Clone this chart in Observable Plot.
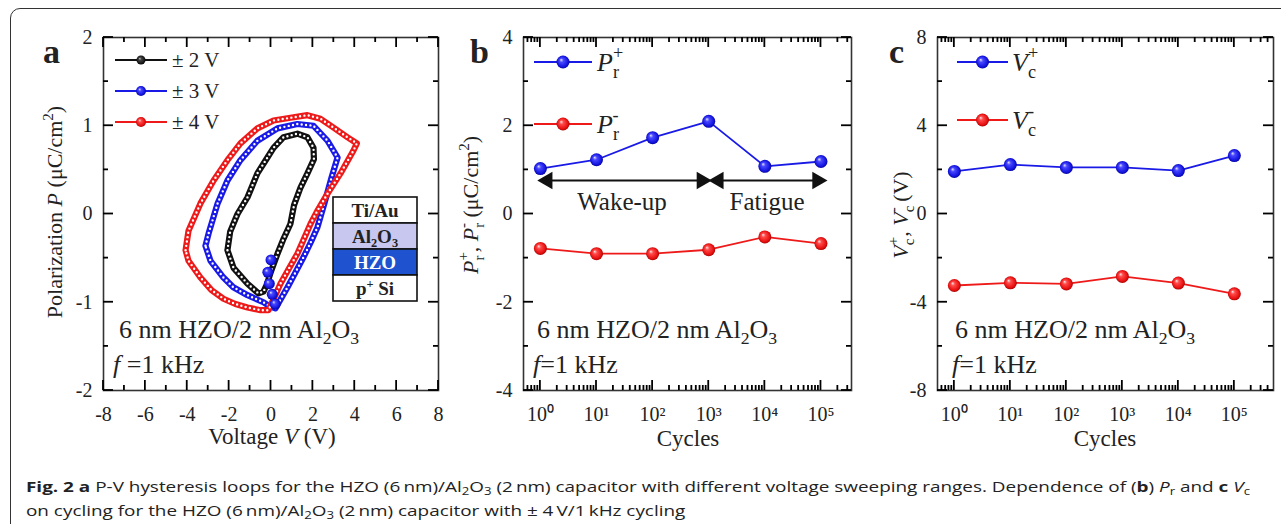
<!DOCTYPE html>
<html><head><meta charset="utf-8">
<script src="https://cdn.jsdelivr.net/npm/d3@7"></script>
<script src="https://cdn.jsdelivr.net/npm/@observablehq/plot@0.6"></script>
<style>
html,body{margin:0;padding:0;background:#fff;}
#wrap{position:relative;width:1281px;height:524px;overflow:hidden;background:#fff;}
#frame{position:absolute;left:10px;top:8px;width:1320px;height:560px;border:1.6px solid #333;border-radius:10px;box-sizing:border-box;}
.panel{position:absolute;top:0;height:470px;}
#caption{position:absolute;left:26px;top:475px;font-family:"Open Sans",sans-serif;font-size:14.5px;color:#222;line-height:24px;white-space:nowrap;transform-origin:0 0;}
#caption sub{font-size:0.7em;line-height:0;vertical-align:-0.25em;}
</style></head>
<body><div id="wrap"><div id="frame"></div>
<svg width="0" height="0" style="position:absolute"><defs>
<radialGradient id="ballBlue" cx="50%" cy="50%" r="55%" fx="35%" fy="32%">
<stop offset="0%" stop-color="#e4e4ff"/><stop offset="28%" stop-color="#4848ff"/><stop offset="75%" stop-color="#1414e0"/><stop offset="100%" stop-color="#00008a"/></radialGradient>
<radialGradient id="ballRed" cx="50%" cy="50%" r="55%" fx="35%" fy="32%">
<stop offset="0%" stop-color="#ffe4e4"/><stop offset="28%" stop-color="#ff4a4a"/><stop offset="75%" stop-color="#e81010"/><stop offset="100%" stop-color="#900000"/></radialGradient>
<radialGradient id="ballBlack" cx="50%" cy="50%" r="55%" fx="35%" fy="32%">
<stop offset="0%" stop-color="#bbbbbb"/><stop offset="30%" stop-color="#444"/><stop offset="100%" stop-color="#000"/></radialGradient>
</defs></svg>
<div id="pa" class="panel" style="left:0;width:450px"></div>
<div id="pb" class="panel" style="left:440px;width:420px"></div>
<div id="pc" class="panel" style="left:860px;width:421px"></div>
<div id="caption"><span id="l1"><b>Fig. 2 a</b> P-V hysteresis loops for the HZO (6&#8201;nm)/Al<sub>2</sub>O<sub>3</sub> (2&#8201;nm) capacitor with different voltage sweeping ranges. Dependence of (<b>b</b>) <i>P</i><sub>r</sub> and <b>c</b> <i>V</i><sub>c</sub></span><br>on cycling for the HZO (6&#8201;nm)/Al<sub>2</sub>O<sub>3</sub> (2&#8201;nm) capacitor with ± 4&#8201;V/1&#8201;kHz cycling</div>
</div>
<script>
const serif = "'Liberation Serif','Times New Roman',serif";
const BLUE = "#1a1ae6", RED = "#ee1a1a", BLACK = "#111", INK = "#222";

// ---------- Panel a data: P-V loops [V, P] ----------
const voltTicks = [-8, -6, -4, -2, 0, 2, 4, 6, 8];
const voltMinor = [-7, -5, -3, -1, 1, 3, 5, 7];
const polTicks = [-2, -1, 0, 1, 2];
const polMinor = [-1.5, -0.5, 0.5, 1.5];
const loop2V = [[-2.08,-0.41],[-1.95,-0.2],[-1.6,0.0],[-1.12,0.19],[-0.65,0.46],[-0.17,0.64],[0.12,0.75],[0.6,0.87],[1.26,0.91],[1.74,0.87],[2.03,0.75],[2.05,0.62],[1.74,0.46],[1.41,0.30],[1.1,0.1],[0.93,-0.11],[0.6,-0.28],[0.31,-0.45],[0.0,-0.65],[-0.2,-0.8],[-0.36,-0.88],[-0.6,-0.9],[-1.12,-0.79],[-1.79,-0.61],[-2.08,-0.41]];
const loop3V = [[-3.13,-0.36],[-2.98,-0.22],[-2.55,0.12],[-2.08,0.38],[-1.46,0.61],[-0.65,0.83],[0.31,0.97],[1.26,1.02],[2.03,1.0],[2.70,0.83],[3.18,0.64],[2.9,0.42],[2.55,0.12],[2.22,-0.15],[1.9,-0.32],[1.55,-0.49],[1.15,-0.67],[0.79,-0.83],[0.45,-0.97],[0.21,-1.07],[-0.1,-1.04],[-0.36,-1.0],[-1.12,-0.92],[-1.8,-0.83],[-2.27,-0.72],[-2.89,-0.53],[-3.13,-0.36]];
const loop4V = [[-4.08,-0.41],[-3.94,-0.19],[-3.37,0.12],[-2.74,0.38],[-2.08,0.61],[-1.46,0.80],[-0.65,0.97],[0.12,1.06],[0.93,1.09],[1.74,1.12],[2.36,1.08],[2.98,0.98],[3.65,0.87],[4.1,0.80],[3.94,0.72],[3.32,0.46],[2.70,0.23],[2.2,0.03],[1.89,-0.11],[1.26,-0.45],[0.85,-0.62],[0.45,-0.79],[0.15,-0.95],[-0.12,-1.09],[-0.5,-1.09],[-1.12,-1.06],[-1.7,-1.02],[-2.27,-0.96],[-2.85,-0.86],[-3.37,-0.72],[-3.94,-0.53],[-4.08,-0.41]];
const start3V = [[0.0,-0.52],[-0.15,-0.66],[-0.08,-0.79],[0.06,-0.91],[0.2,-1.02]];

// ---------- Panels b, c data ----------
const cycles = [1, 10, 100, 1000, 10000, 100000];
const cycleMinor = [0.6,0.7,0.8,0.9,2,3,4,5,6,7,8,9,20,30,40,50,60,70,80,90,200,300,400,500,600,700,800,900,2e3,3e3,4e3,5e3,6e3,7e3,8e3,9e3,2e4,3e4,4e4,5e4,6e4,7e4,8e4,9e4,2e5,3e5,4e5];
const prPlus = [1.03, 1.23, 1.73, 2.10, 1.08, 1.19];
const prMinus = [-0.78, -0.90, -0.90, -0.81, -0.52, -0.67];
const prTicks = [-4, -2, 0, 2, 4];
const prMinor = [-3, -1, 1, 3];
const vcPlus = [1.93, 2.24, 2.11, 2.11, 1.97, 2.65];
const vcMinus = [-3.24, -3.12, -3.17, -2.83, -3.13, -3.62];
const vcTicks = [-8, -4, 0, 4, 8];
const vcMinor = [-6, -2, 2, 6];

const SUP = "⁰¹²³⁴⁵⁶⁷⁸⁹";
const fmtPow = d => "10" + SUP[Math.round(Math.log10(d))];
const fmtNum = d => String(d);

function labelAxes(xMaj, yMaj, fmtX, fmtY) {
  return [
    Plot.axisX({ticks: xMaj, anchor: "bottom", tickSize: 0, tickPadding: 16, tickFormat: fmtX, fontSize: 20, label: null}),
    Plot.axisY({ticks: yMaj, anchor: "left", tickSize: 0, tickPadding: 11, tickFormat: fmtY, fontSize: 20, label: null}),
    Plot.frame({stroke: "#333", strokeWidth: 1.6})
  ];
}
// inward ticks on all four sides, placed through the plot's own scales
function inwardTicks(plot, xMaj, xMin, yMaj, yMin) {
  const sx = plot.scale("x"), sy = plot.scale("y");
  const fx = (sx.type === "log" ? d3.scaleLog() : d3.scaleLinear()).domain(sx.domain).range(sx.range);
  const fy = d3.scaleLinear().domain(sy.domain).range(sy.range);
  const [xl, xr] = d3.extent(sx.range), [yt, yb] = d3.extent(sy.range);
  const inX = xMin.filter(v => v >= d3.min(sx.domain) && v <= d3.max(sx.domain));
  const g = d3.select(plot).append("g").attr("stroke", "#000").attr("stroke-width", 1.8).attr("fill", "none");
  const add = (x1, y1, x2, y2) => g.append("line").attr("x1", x1).attr("y1", y1).attr("x2", x2).attr("y2", y2);
  const M = 10, m = 5;
  for (const [vals, L] of [[xMaj, M], [inX, m]]) for (const v of vals) {
    const x = fx(v); add(x, yb, x, yb - L); add(x, yt, x, yt + L);
  }
  for (const [vals, L] of [[yMaj, M], [yMin, m]]) for (const v of vals) {
    const y = fy(v); add(xl, y, xl + L, y); add(xr, y, xr - L, y);
  }
}
const baseStyle = {fontFamily: serif, fontSize: "20px", color: INK, background: "none", overflow: "visible"};

function rich(svg, x, y, parts, o = {}) {
  const size = o.size || 20;
  const t = d3.select(svg).append("text")
    .attr("transform", `translate(${x},${y})` + (o.rotate ? ` rotate(${o.rotate})` : ""))
    .attr("text-anchor", o.anchor || "start")
    .attr("font-family", o.family || serif).attr("font-size", size)
    .attr("font-weight", o.weight || "normal").attr("fill", o.fill || INK);
  let cur = 0, lastW = 0;
  for (const p of parts) {
    const fs = p.s ? size * p.s : size;
    const shift = p.b || 0;
    const s = t.append("tspan").text(p.t).attr("font-size", fs);
    if (p.i) s.attr("font-style", "italic");
    if (shift !== cur) s.attr("dy", shift - cur);
    cur = shift;
    if (p.back) s.attr("dx", -lastW);
    lastW = s.node().getComputedTextLength();
  }
  return t;
}
function legendItem(svg, x1, x2, y, color, ball, r) {
  const g = d3.select(svg).append("g");
  g.append("line").attr("x1", x1).attr("x2", x2).attr("y1", y).attr("y2", y).attr("stroke", color).attr("stroke-width", 2);
  g.append("circle").attr("cx", (x1 + x2) / 2).attr("cy", y).attr("r", r).attr("fill", `url(#${ball})`);
}

// loops: emulate a dense chain of hollow circle markers
function loopMarks(loop, color) {
  return [
    Plot.line(loop, {x: d => d[0], y: d => d[1], stroke: color, strokeWidth: 6.2, strokeLinejoin: "round"}),
    Plot.line(loop, {x: d => d[0], y: d => d[1], stroke: "white", strokeWidth: 2.4, strokeDasharray: "0 4.4", strokeLinecap: "round"})
  ];
}

// ---------- Panel a ----------
const plotA = Plot.plot({
  width: 450, height: 470, marginLeft: 103, marginRight: 12, marginTop: 37, marginBottom: 80,
  x: {domain: [-8, 8]}, y: {domain: [-2, 2]},
  style: baseStyle,
  marks: [
    ...labelAxes(voltTicks, polTicks, fmtNum, fmtNum),
    ...loopMarks(loop2V, BLACK),
    ...loopMarks(loop3V, BLUE),
    ...loopMarks(loop4V, RED),
    Plot.dot(start3V, {x: d => d[0], y: d => d[1], r: 5.5, fill: "url(#ballBlue)"})
  ]
});
document.getElementById("pa").append(plotA);

// ---------- Panel b ----------
const plotB = Plot.plot({
  width: 420, height: 470, marginLeft: 83, marginRight: 9, marginTop: 37, marginBottom: 80,
  x: {type: "log", domain: [0.5, 3.5e5]}, y: {domain: [-4, 4]},
  style: baseStyle,
  marks: [
    ...labelAxes(cycles, prTicks, fmtPow, fmtNum),
    Plot.link([{a: cycles[0], b: cycles[3]}, {a: cycles[3] * 1.12, b: cycles[5] * 1.15}], {x1: "a", x2: "b", y1: 0.76, y2: 0.76, stroke: "#111", strokeWidth: 2}),
    Plot.dot([cycles[3], cycles[5] * 1.15], {x: d => d, y: 0.76, symbol: "triangle", rotate: 90, r: 6.5, fill: "#111", dx: -7}),
    Plot.dot([cycles[0], cycles[3] * 1.12], {x: d => d, y: 0.76, symbol: "triangle", rotate: -90, r: 6.5, fill: "#111", dx: 7}),
    Plot.line(cycles, {x: d => d, y: (d, i) => prPlus[i], stroke: BLUE, strokeWidth: 1.8}),
    Plot.line(cycles, {x: d => d, y: (d, i) => prMinus[i], stroke: RED, strokeWidth: 1.8}),
    Plot.dot(cycles, {x: d => d, y: (d, i) => prPlus[i], r: 6.5, fill: "url(#ballBlue)"}),
    Plot.dot(cycles, {x: d => d, y: (d, i) => prMinus[i], r: 6.5, fill: "url(#ballRed)"})
  ]
});
document.getElementById("pb").append(plotB);

// ---------- Panel c ----------
const plotC = Plot.plot({
  width: 421, height: 470, marginLeft: 77, marginRight: 8, marginTop: 37, marginBottom: 80,
  x: {type: "log", domain: [0.5, 5e5]}, y: {domain: [-8, 8]},
  style: baseStyle,
  marks: [
    ...labelAxes(cycles, vcTicks, fmtPow, fmtNum),
    Plot.line(cycles, {x: d => d, y: (d, i) => vcPlus[i], stroke: BLUE, strokeWidth: 1.8}),
    Plot.line(cycles, {x: d => d, y: (d, i) => vcMinus[i], stroke: RED, strokeWidth: 1.8}),
    Plot.dot(cycles, {x: d => d, y: (d, i) => vcPlus[i], r: 6.5, fill: "url(#ballBlue)"}),
    Plot.dot(cycles, {x: d => d, y: (d, i) => vcMinus[i], r: 6.5, fill: "url(#ballRed)"})
  ]
});
document.getElementById("pc").append(plotC);

// ---------- annotations ----------
const sub = (t) => ({t, s: 0.68, b: 6});
const sup = (t) => ({t, s: 0.68, b: -10, back: true});
const supn = (t) => ({t, s: 0.68, b: -9});

// panel a
rich(plotA, 43, 63, [{t: "a"}], {size: 34, weight: "bold"});
rich(plotA, 62, 212, [{t: "Polarization "}, {t: "P", i: true}, {t: " (μC/cm"}, supn("2"), {t: ")"}], {size: 22, rotate: -90, anchor: "middle"});
rich(plotA, 272, 444, [{t: "Voltage "}, {t: "V", i: true}, {t: " (V)"}], {size: 23, anchor: "middle"});
legendItem(plotA, 115, 167, 60, BLACK, "ballBlack", 4.5);
legendItem(plotA, 115, 167, 91, BLUE, "ballBlue", 5);
legendItem(plotA, 115, 167, 122, RED, "ballRed", 5);
rich(plotA, 172, 67, [{t: "± 2 V"}], {size: 21});
rich(plotA, 172, 98, [{t: "± 3 V"}], {size: 21});
rich(plotA, 172, 129, [{t: "± 4 V"}], {size: 21});
rich(plotA, 119, 338, [{t: "6 nm HZO/2 nm Al"}, {t: "2", s: 0.68, b: 6}, {t: "O"}, {t: "3", s: 0.68, b: 6}], {size: 26});
rich(plotA, 113, 373, [{t: "f", i: true}, {t: " =1 kHz"}], {size: 26});
// inset stack
{
  const g = d3.select(plotA).append("g");
  const fills = ["#ffffff", "#c8c7ef", "#1e52cf", "#ffffff"];
  fills.forEach((fill, i) => {
    g.append("rect").attr("x", 333).attr("y", 197 + i * 26).attr("width", 84).attr("height", 26).attr("fill", fill).attr("stroke", "#111").attr("stroke-width", 1.6);
  });
  rich(plotA, 375, 217, [{t: "Ti/Au"}], {size: 19, weight: "bold", anchor: "middle"});
  rich(plotA, 375, 243, [{t: "Al"}, {t: "2", s: 0.65, b: 4}, {t: "O"}, {t: "3", s: 0.65, b: 4}], {size: 19, weight: "bold", anchor: "middle"});
  rich(plotA, 375, 269, [{t: "HZO"}], {size: 19, weight: "bold", anchor: "middle", fill: "#fff"});
  rich(plotA, 375, 295, [{t: "p"}, {t: "+", s: 0.65, b: -7}, {t: " Si", b: 0}], {size: 19, weight: "bold", anchor: "middle"});
}

// panel b
rich(plotB, 30, 63, [{t: "b"}], {size: 34, weight: "bold"});
rich(plotB, 38, 205, [{t: "P", i: true}, sub("r"), sup("+"), {t: ", ", b: 0}, {t: "P", i: true}, sub("r"), sup("-"), {t: " (μC/cm", b: 0}, supn("2"), {t: ")", b: 0}], {size: 22, rotate: -90, anchor: "middle"});
rich(plotB, 248, 446, [{t: "Cycles"}], {size: 23, anchor: "middle"});
legendItem(plotB, 94, 152, 62, BLUE, "ballBlue", 6.5);
legendItem(plotB, 94, 152, 124, RED, "ballRed", 6.5);
rich(plotB, 157, 71, [{t: "P", i: true}, {t: "r", s: 0.7, b: 7}, {t: "+", s: 0.7, b: -12, back: true}], {size: 26});
rich(plotB, 157, 133, [{t: "P", i: true}, {t: "r", s: 0.7, b: 7}, {t: "-", s: 0.7, b: -12, back: true}], {size: 26});
rich(plotB, 182, 210, [{t: "Wake-up"}], {size: 25, anchor: "middle"});
rich(plotB, 327, 210, [{t: "Fatigue"}], {size: 25, anchor: "middle"});
rich(plotB, 97, 338, [{t: "6 nm HZO/2 nm Al"}, {t: "2", s: 0.68, b: 6}, {t: "O"}, {t: "3", s: 0.68, b: 6}], {size: 26});
rich(plotB, 93, 373, [{t: "f", i: true}, {t: "=1 kHz"}], {size: 26});

// panel c
rich(plotC, 29, 63, [{t: "c"}], {size: 34, weight: "bold"});
rich(plotC, 48, 215, [{t: "V", i: true}, sub("c"), sup("+"), {t: ", ", b: 0}, {t: "V", i: true}, sub("c"), sup("-"), {t: " (V)", b: 0}], {size: 22, rotate: -90, anchor: "middle"});
rich(plotC, 245, 446, [{t: "Cycles"}], {size: 23, anchor: "middle"});
legendItem(plotC, 97, 148, 62, BLUE, "ballBlue", 6.5);
legendItem(plotC, 97, 148, 120, RED, "ballRed", 6.5);
rich(plotC, 152, 71, [{t: "V", i: true}, {t: "c", s: 0.7, b: 7}, {t: "+", s: 0.7, b: -12, back: true}], {size: 26});
rich(plotC, 152, 129, [{t: "V", i: true}, {t: "c", s: 0.7, b: 7}, {t: "-", s: 0.7, b: -12, back: true}], {size: 26});
rich(plotC, 95, 338, [{t: "6 nm HZO/2 nm Al"}, {t: "2", s: 0.68, b: 6}, {t: "O"}, {t: "3", s: 0.68, b: 6}], {size: 26});
rich(plotC, 92, 373, [{t: "f", i: true}, {t: "=1 kHz"}], {size: 26});

// ticks drawn last, on top of everything
inwardTicks(plotA, voltTicks, voltMinor, polTicks, polMinor);
inwardTicks(plotB, cycles, cycleMinor, prTicks, prMinor);
inwardTicks(plotC, cycles, cycleMinor, vcTicks, vcMinor);

// caption fit
{
  const l1 = document.getElementById("l1");
  const w = l1.getBoundingClientRect().width;
  const target = 1224;
  document.getElementById("caption").style.transform = `scaleX(${target / w})`;
}
</script>
</body></html>
